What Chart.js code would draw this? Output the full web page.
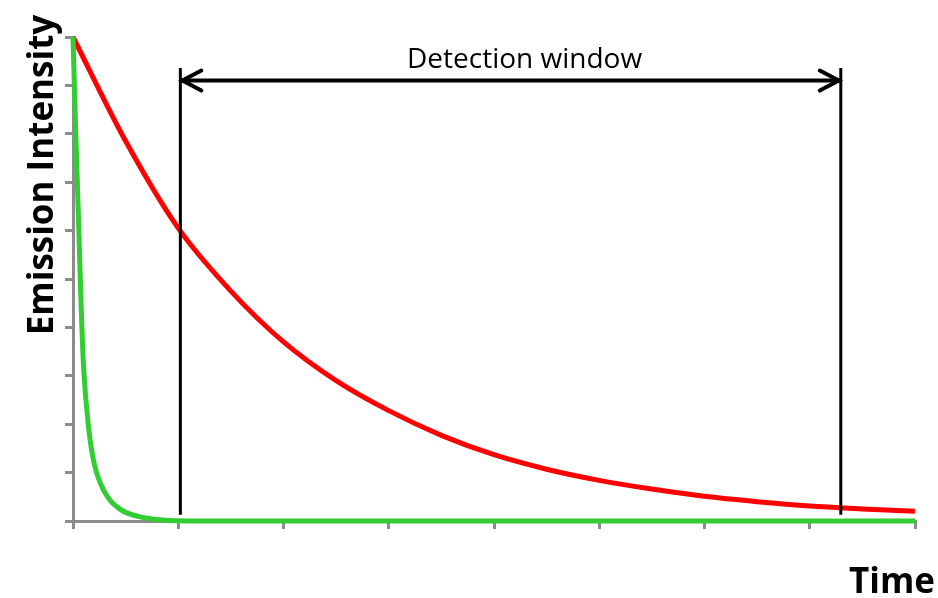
<!DOCTYPE html>
<html>
<head>
<meta charset="utf-8">
<script src="https://cdn.jsdelivr.net/npm/chart.js@4"></script>
<style>
  html, body { margin: 0; padding: 0; background: #fff; }
  #wrap { width: 938px; height: 598px; }
</style>
</head>
<body>
<div id="wrap"><canvas id="decay"></canvas></div>
<script>
// time in axis units (one unit = one x tick), intensity 0..10
const redTime = [0, 0.5, 1, 1.5, 2, 2.5, 3, 3.5, 4, 4.5, 5, 5.5, 6, 6.5, 7, 7.5, 8];
const redValues = [10, 7.85, 6.05, 4.75, 3.7, 2.9, 2.28, 1.77, 1.37, 1.07, 0.84, 0.66, 0.51, 0.4, 0.31, 0.25, 0.2];
const greenTime = [0, 0.025, 0.05, 0.075, 0.1, 0.15, 0.2, 0.3, 0.45, 0.65, 0.85, 1.2, 8];
const greenValues = [10, 8.1, 6.4, 4.6, 3.2, 1.9, 1.2, 0.6, 0.24, 0.08, 0.02, 0, 0];

// detection window: start, end (time) and heights (intensity)
const windowTime = [1.02, 7.295];
const windowTop = 9.36;
const windowBottom = 0.13;
const arrowLevel = 9.1;

const windowLabel = 'Detection window';
const xTitle = 'Time';
const yTitle = 'Emission Intensity';

function pts(t, v) {
  return t.map((x, i) => ({ x: x, y: v[i] }));
}

const gray = 'rgb(140,140,140)';

const extras = {
  id: 'extras',
  afterDatasetsDraw(chart) {
    const ctx = chart.ctx;
    const xs = chart.scales.x, ys = chart.scales.y;
    const x1 = xs.getPixelForValue(windowTime[0]);
    const x2 = xs.getPixelForValue(windowTime[1]);
    const top = ys.getPixelForValue(windowTop);
    const bot = ys.getPixelForValue(windowBottom);
    const ay = ys.getPixelForValue(arrowLevel);
    ctx.save();
    ctx.strokeStyle = '#000';
    ctx.lineWidth = 3;
    ctx.beginPath();
    ctx.moveTo(x1, top); ctx.lineTo(x1, bot);
    ctx.moveTo(x2, top); ctx.lineTo(x2, bot);
    ctx.stroke();
    ctx.lineWidth = 4;
    ctx.beginPath();
    ctx.moveTo(x1 + 1, ay); ctx.lineTo(x2 - 1, ay);
    ctx.stroke();
    ctx.lineCap = 'round';
    ctx.beginPath();
    ctx.moveTo(x1 + 21, ay - 10); ctx.lineTo(x1 + 2, ay); ctx.lineTo(x1 + 21, ay + 10);
    ctx.moveTo(x2 - 21, ay - 10); ctx.lineTo(x2 - 2, ay); ctx.lineTo(x2 - 21, ay + 10);
    ctx.stroke();

    ctx.fillStyle = '#000';
    ctx.font = '28px "Open Sans"';
    ctx.textAlign = 'center';
    ctx.textBaseline = 'alphabetic';
    ctx.fillText(windowLabel, (x1 + x2) / 2 + 14, 68);

    ctx.font = 'bold 35px "Open Sans"';
    ctx.textAlign = 'right';
    ctx.fillText(xTitle, 935, 593);

    ctx.translate(53, 175);
    ctx.rotate(-Math.PI / 2);
    ctx.textAlign = 'center';
    ctx.fillText(yTitle, 0, 0);
    ctx.restore();
  }
};

new Chart(document.getElementById('decay'), {
  type: 'line',
  data: {
    datasets: [{
      label: 'fast',
      data: pts(greenTime, greenValues),
      borderColor: 'rgb(50,205,50)',
      borderWidth: 5,
      pointRadius: 0,
      cubicInterpolationMode: 'monotone',
      clip: false
    }, {
      label: 'slow',
      data: pts(redTime, redValues),
      borderColor: 'rgb(255,0,0)',
      borderWidth: 5,
      pointRadius: 0,
      cubicInterpolationMode: 'monotone',
      clip: false
    }]
  },
  options: {
    responsive: true,
    maintainAspectRatio: false,
    animation: false,
    layout: { padding: { left: 63, right: 23, top: 37, bottom: 67 } },
    plugins: {
      legend: { display: false },
      tooltip: { enabled: false }
    },
    scales: {
      x: {
        type: 'linear',
        min: 0,
        max: 8,
        afterFit(s) { s.height = 10; },
        ticks: { stepSize: 1, display: false },
        grid: { drawOnChartArea: false, drawTicks: true, tickLength: 8, color: gray, lineWidth: 3 },
        border: { color: gray, width: 3 }
      },
      y: {
        min: 0,
        max: 10,
        afterFit(s) { s.width = 10; },
        ticks: { stepSize: 1, display: false },
        grid: { drawOnChartArea: false, drawTicks: true, tickLength: 8, color: gray, lineWidth: 3 },
        border: { color: gray, width: 3 }
      }
    }
  },
  plugins: [extras]
});
</script>
</body>
</html>
